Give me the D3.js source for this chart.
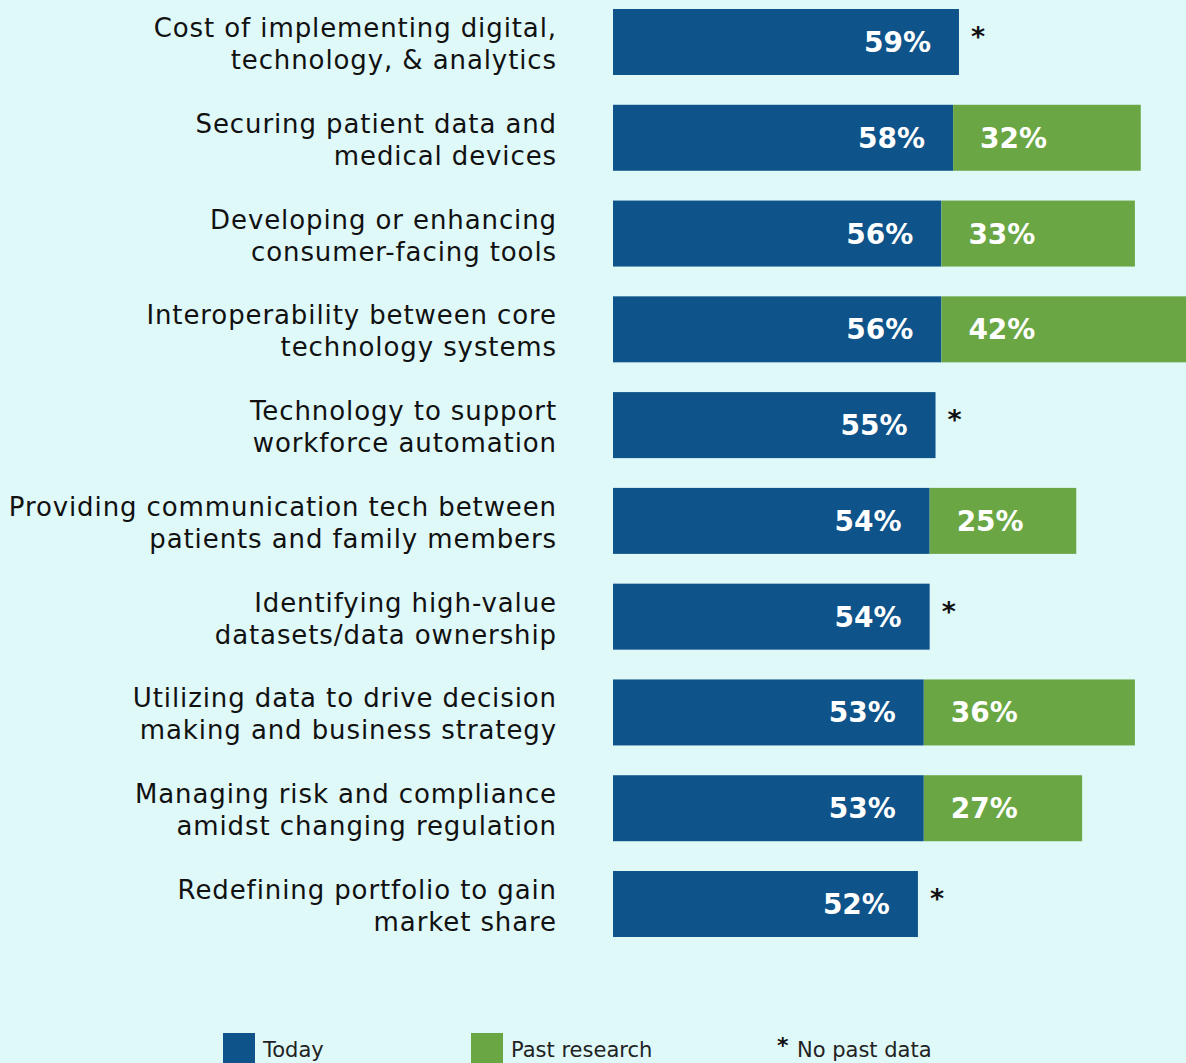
<!DOCTYPE html>
<html>
<head>
<meta charset="utf-8">
<script src="https://cdn.jsdelivr.net/npm/d3@7"></script>
<style>
  html, body { margin: 0; padding: 0; background: #dff8f8; }
  svg { display: block; }
</style>
</head>
<body>
<svg id="chart" width="1186" height="1063"></svg>
<script>
// Data
const labels = [
  ["Cost of implementing digital,", "technology, & analytics"],
  ["Securing patient data and", "medical devices"],
  ["Developing or enhancing", "consumer-facing tools"],
  ["Interoperability between core", "technology systems"],
  ["Technology to support", "workforce automation"],
  ["Providing communication tech between", "patients and family members"],
  ["Identifying high-value", "datasets/data ownership"],
  ["Utilizing data to drive decision", "making and business strategy"],
  ["Managing risk and compliance", "amidst changing regulation"],
  ["Redefining portfolio to gain", "market share"]
];
const today = [59, 58, 56, 56, 55, 54, 54, 53, 53, 52];
const past = [null, 32, 33, 42, null, 25, null, 36, 27, null];
const legendItems = ["Today", "Past research", "No past data"];

const BLUE = "#0e538a", GREEN = "#6aa744";
const FONT = "'DejaVu Sans', sans-serif";

const svg = d3.select("#chart");
const rows = d3.range(labels.length);

const x = d3.scaleLinear().domain([0, 100]).range([613, 613 + 586.4]);
const y = d3.scaleBand().domain(rows).range([9, 937]).paddingInner(0.311).paddingOuter(0);

const g = svg.append("g");

const row = g.selectAll(".row")
  .data(rows)
  .join("g")
  .attr("class", "row")
  .attr("transform", i => `translate(0, ${y(i)})`);

const bh = y.bandwidth();

// today bars
row.append("rect")
  .attr("x", x(0))
  .attr("y", 0)
  .attr("width", i => x(today[i]) - x(0))
  .attr("height", bh)
  .attr("fill", BLUE);

row.append("text")
  .attr("x", i => x(today[i]) - 28)
  .attr("y", bh / 2 + 10)
  .attr("text-anchor", "end")
  .attr("fill", "#fff")
  .attr("font-family", FONT)
  .attr("font-weight", "bold")
  .attr("font-size", 28)
  .text(i => today[i] + "%");

// past bars
const withPast = row.filter(i => past[i] != null);
withPast.append("rect")
  .attr("x", i => x(today[i]))
  .attr("y", 0)
  .attr("width", i => x(past[i]) - x(0))
  .attr("height", bh)
  .attr("fill", GREEN);

withPast.append("text")
  .attr("x", i => x(today[i]) + 27)
  .attr("y", bh / 2 + 10)
  .attr("fill", "#fff")
  .attr("font-family", FONT)
  .attr("font-weight", "bold")
  .attr("font-size", 28)
  .text(i => past[i] + "%");

// asterisk for no past data
row.filter(i => past[i] == null).append("text")
  .attr("x", i => x(today[i]) + 12)
  .attr("y", bh / 2 + 4)
  .attr("fill", "#111")
  .attr("font-family", FONT)
  .attr("font-weight", "bold")
  .attr("font-size", 27)
  .text("*");

// category labels
const lab = row.append("text")
  .attr("text-anchor", "end")
  .attr("fill", "#111")
  .attr("font-family", FONT)
  .attr("font-size", 26)
  .attr("letter-spacing", 0.9);

lab.selectAll("tspan")
  .data(i => labels[i])
  .join("tspan")
  .attr("x", 557)
  .attr("y", (d, k) => bh / 2 - 5 + k * 32)
  .text(d => d);

// legend
const leg = svg.append("g").attr("transform", "translate(0, 1033)");
leg.append("rect").attr("x", 223).attr("y", 0).attr("width", 32).attr("height", 32).attr("fill", BLUE);
leg.append("rect").attr("x", 471).attr("y", 0).attr("width", 32).attr("height", 32).attr("fill", GREEN);
leg.append("text").attr("x", 777).attr("y", 20).attr("font-family", FONT).attr("font-weight", "bold")
  .attr("font-size", 22).attr("fill", "#111").text("*");

leg.selectAll(".lt")
  .data(legendItems)
  .join("text")
  .attr("class", "lt")
  .attr("x", (d, k) => [263, 511, 797][k])
  .attr("y", 24)
  .attr("font-family", FONT)
  .attr("font-size", 21)
  .attr("fill", "#222")
  .text(d => d);
</script>
</body>
</html>
